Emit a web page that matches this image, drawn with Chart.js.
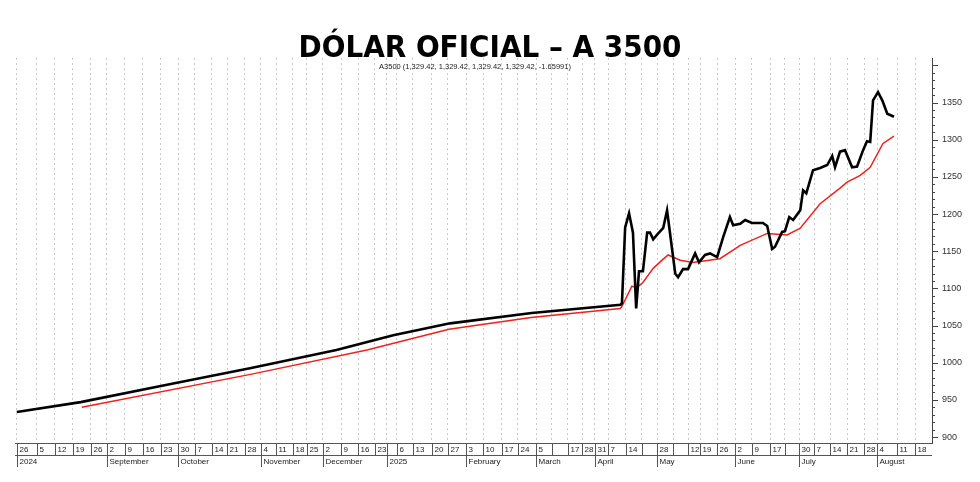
<!DOCTYPE html>
<html><head><meta charset="utf-8">
<script src="https://cdn.jsdelivr.net/npm/chart.js@4.4.1/dist/chart.umd.min.js"></script>
<style>html,body{margin:0;padding:0;background:#fff}#w{width:980px;height:482px}</style>
</head><body><div id="w"><canvas id="c"></canvas></div>
<script>
const titleText = "DÓLAR OFICIAL – A 3500";
const legendText = "A3500 (1,329.42, 1,329.42, 1,329.42, 1,329.42, -1.65991)";
const priceX = [0,18,43,66,90,106,122,145,170,170.4,171.3,172.4,173.5,174.4,175.2,176.3,177.5,178.3,179.2,180.6,182,183.1,185.4,186.2,187.6,189,191,192.1,193.8,195.2,197.2,198.9,200.8,201.7,203.7,205.1,207,210.1,211.3,212.7,213.5,215.5,216.3,217.5,218.6,220.6,221.4,222.3,224.2,226.2,228.2,229.6,230.4,231.8,233.2,235.2,236.6,238.3,239.4,240.3,241.1,242.5,243.7,245.1,247];
const priceY = [933.6,947,971,993,1017,1037,1053,1067,1078,1080,1182,1201,1175,1073,1123,1123,1175,1175,1166,1174,1181,1205,1120,1115,1126,1126,1147,1135,1145,1147,1142,1169,1196,1185,1187,1192,1188,1188,1184,1153,1156,1176,1177,1196,1192,1205,1232,1228,1259,1262,1266,1278,1263,1284,1286,1263,1264,1286,1298,1297,1353,1364,1353,1335,1331];
const maX = [18.3,66.5,98.6,121.7,144.8,169.9,170.4,173.2,174.6,176.3,179.2,181.7,183.4,186.8,190.4,198,203.7,211.3,216.9,220.6,226.2,231.8,233.8,237.5,240.3,243.9,247];
const maY = [940,985,1017,1045,1061,1073,1076,1103,1101,1108,1127,1138,1145,1138,1135,1140,1158,1174,1172,1181,1214,1235,1243,1252,1263,1295,1305];
const tickDays = [0,5.6,10.7,15.8,20.8,25.4,30.4,35.5,40.6,45.4,50.1,54.9,59.2,64.2,68.7,73,77.7,81.7,86.2,91.3,96.1,100.8,104.2,107,111.5,116.9,121.4,126.5,131.3,136.6,141.1,146.2,150.7,155.2,159.2,162.8,166.5,171.5,176,180.3,184.8,189,192.4,197.2,202.3,207,212.1,216.3,220.3,224.5,229,233.8,238.6,242.3,247.9,253];
const tickLabels = ["26","5","12","19","26","2","9","16","23","30","7","14","21","28","4","11","18","25","2","9","16","23","","6","13","20","27","3","10","17","24","5","","17","28","31","7","14","","28","","12","19","26","2","9","17","","30","7","14","21","28","4","11","18"];
const monthLabels = {0:"2024",5:"September",9:"October",14:"November",18:"December",22:"2025",27:"February",31:"March",35:"April",39:"May",44:"June",48:"July",53:"August"};
const yTicks = [900,950,1000,1050,1100,1150,1200,1250,1300,1350,1400];

const deco = {
  id:'deco',
  afterDraw(ch){
    const ctx=ch.ctx, xs=ch.scales.x, ys=ch.scales.y, a=ch.chartArea;
    ctx.save();
    ctx.fillStyle='#000';ctx.font='bold 31px "DejaVu Sans Condensed", "DejaVu Sans"';
    ctx.textAlign='center';ctx.textBaseline='alphabetic';
    ctx.fillText(titleText,490,57);
    ctx.font='7.5px "Liberation Sans", Arial';ctx.textAlign='center';ctx.fillStyle='#222';
    ctx.fillText(legendText,475,69);
    const b=a.bottom;
    ctx.strokeStyle='#555';ctx.lineWidth=1;
    ctx.beginPath();
    ctx.moveTo(a.left,b+0.5);ctx.lineTo(a.right,b+0.5);
    ctx.moveTo(a.left,b+12.5);ctx.lineTo(a.right,b+12.5);
    ctx.stroke();
    ctx.font='8px "Liberation Sans", Arial';ctx.textAlign='left';ctx.textBaseline='middle';ctx.fillStyle='#222';
    tickDays.forEach((d,i)=>{
      const px=Math.round(xs.getPixelForValue(d))+0.5;
      const long = monthLabels[i]!==undefined;
      ctx.beginPath();ctx.moveTo(px,b);ctx.lineTo(px,b+(long?24:12));ctx.stroke();
      ctx.fillText(tickLabels[i],px+2,b+7);
      if(long) ctx.fillText(monthLabels[i],px+2,b+19);
    });
    ctx.strokeStyle='#444';
    for(let v=900;v<=1400;v+=10){
      const py=Math.round(ys.getPixelForValue(v))+0.5;
      ctx.beginPath();ctx.moveTo(a.right,py);ctx.lineTo(a.right+(v%50===0?6:3),py);ctx.stroke();
    }
    ctx.restore();
  }
};

new Chart(document.getElementById('c'),{
  type:'line',
  data:{datasets:[
    {data:priceX.map((x,i)=>({x,y:priceY[i]})),borderColor:'#000',borderWidth:2.6,pointRadius:0,tension:0},
    {data:maX.map((x,i)=>({x,y:maY[i]})),borderColor:'#f0201a',borderWidth:1.5,pointRadius:0,tension:0}
  ]},
  options:{
    responsive:true,maintainAspectRatio:false,animation:false,
    layout:{padding:{top:58,left:15,bottom:39,right:0}},
    plugins:{legend:{display:false},tooltip:{enabled:false}},
    scales:{
      x:{type:'linear',min:-0.5,max:257.7,
        afterBuildTicks(s){s.ticks=tickDays.map(v=>({value:v}));},
        afterFit(s){s.height=0;},
        ticks:{display:false},
        border:{display:false,dash:[2,3]},
        grid:{color:'#c8c8c8',lineWidth:1,drawTicks:false}},
      y:{position:'right',min:892,max:1410,
        afterBuildTicks(s){s.ticks=yTicks.map(v=>({value:v}));},
        afterFit(s){s.width=48;},
        ticks:{callback:v=>v===1400?'':v,color:'#333',font:{size:9,family:'"Liberation Sans", Arial'},padding:10},
        border:{display:true,color:'#444',width:1},
        grid:{display:false,drawTicks:false}}
    }
  },
  plugins:[deco]
});
</script></body></html>
